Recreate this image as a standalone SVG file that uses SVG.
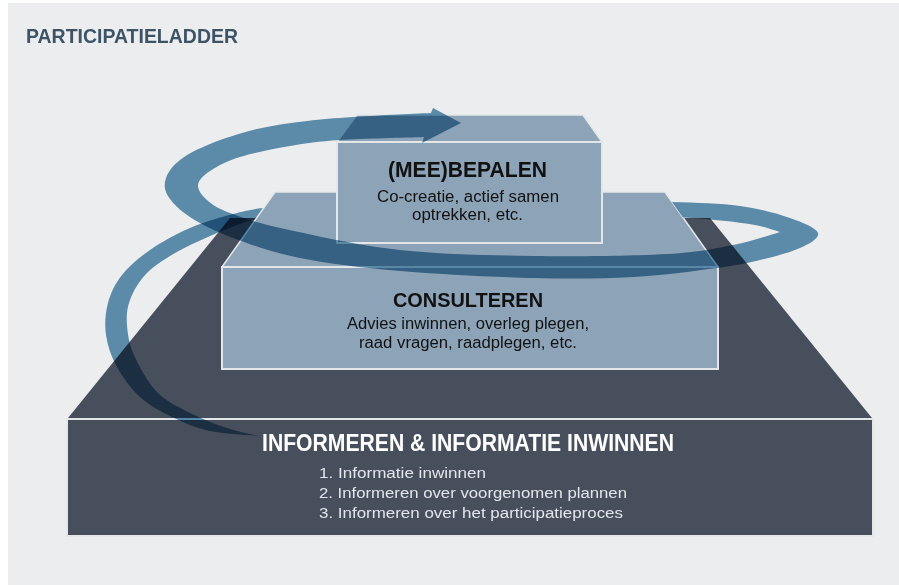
<svg xmlns="http://www.w3.org/2000/svg" width="899" height="585" viewBox="0 0 899 585">
<style>
.bg{fill:#ECEDEF}
.dark{fill:#474F5D}
.light{fill:#8DA4B8}
.edge{stroke:#E4E7EA;stroke-width:2}
.tedge{stroke:#E4E7EA;stroke-width:1.5;stroke-linejoin:round}
.rib{fill:#6296B5;mix-blend-mode:multiply}
.h{font-family:"Liberation Sans",Arial,sans-serif;font-weight:bold}
.b{font-family:"Liberation Sans",Arial,sans-serif}
</style>
<rect x="0" y="0" width="899" height="585" fill="#ffffff"/>
<rect class="bg" x="8" y="3" width="891" height="582"/>
<text class="h" x="26" y="43" font-size="19.5" fill="#3D5366" textLength="212" lengthAdjust="spacingAndGlyphs">PARTICIPATIELADDER</text>

<g id="level-informeren">
  <polygon class="dark" points="230,218 710,218 872,418 68,418"/>
  <rect class="dark edge" x="67" y="419" width="806" height="117"/>
  <text class="h" x="262" y="451" font-size="23" fill="#ffffff" textLength="412" lengthAdjust="spacingAndGlyphs">INFORMEREN &amp; INFORMATIE INWINNEN</text>
  <text class="b" x="319" y="478" font-size="15.5" fill="#E3E6EA" textLength="167" lengthAdjust="spacingAndGlyphs">1. Informatie inwinnen</text>
  <text class="b" x="319" y="498" font-size="15.5" fill="#E3E6EA" textLength="308" lengthAdjust="spacingAndGlyphs">2. Informeren over voorgenomen plannen</text>
  <text class="b" x="319" y="518" font-size="15.5" fill="#E3E6EA" textLength="304" lengthAdjust="spacingAndGlyphs">3. Informeren over het participatieproces</text>
</g>

<g id="arrow-back">
  <path class="rib" d="M 260,436 C 248.3,435 224.7,434.2 210,431 C 195.3,427.8 183.7,422.7 172,417 C 160.3,411.3 149.2,405.3 140,397 C 130.8,388.7 122.7,377.3 117,367 C 111.3,356.7 107.5,345.7 106,335 C 104.5,324.3 105.3,313 108,303 C 110.7,293 115,283.8 122,275 C 129,266.2 138.7,257.8 150,250 C 161.3,242.2 176.2,234 190,228 C 203.8,222 220.8,217.3 233,214 C 245.2,210.7 251.8,209.3 263,208 L 500,202 L 500,218 L 263,218 C 255.2,219.5 251.8,220 243,223 C 234.2,226 221.3,231 210,236 C 198.7,241 185.7,246.7 175,253 C 164.3,259.3 153.5,266.2 146,274 C 138.5,281.8 133.2,291.5 130,300 C 126.8,308.5 126.3,315.8 127,325 C 127.7,334.2 129,343.8 134,355 C 139,366.2 147.7,382.3 157,392 C 166.3,401.7 178.3,407 190,413 C 201.7,419 215.3,424.2 227,428 C 238.7,431.8 251.2,434.5 260,436 Z"/>
</g>

<g id="level-consulteren">
  <polygon class="light tedge" points="275,192 665,192 718,267 222,267"/>
  <rect class="light edge" x="222" y="267" width="496" height="102"/>
  <text class="h" x="393" y="307" font-size="21" fill="#111111" textLength="150" lengthAdjust="spacingAndGlyphs">CONSULTEREN</text>
  <text class="b" x="347" y="329" font-size="16" fill="#111111" textLength="242" lengthAdjust="spacingAndGlyphs">Advies inwinnen, overleg plegen,</text>
  <text class="b" x="359" y="348" font-size="16" fill="#111111" textLength="218" lengthAdjust="spacingAndGlyphs">raad vragen, raadplegen, etc.</text>
</g>

<g id="level-bepalen">
  <polygon class="light tedge" points="357,115 583,115 602,142 337,142"/>
  <rect class="light edge" x="337" y="142" width="265" height="101"/>
  <text class="h" x="388" y="177" font-size="22" fill="#111111" textLength="159" lengthAdjust="spacingAndGlyphs">(MEE)BEPALEN</text>
  <text class="b" x="377" y="202" font-size="16" fill="#111111" textLength="182" lengthAdjust="spacingAndGlyphs">Co-creatie, actief samen</text>
  <text class="b" x="412" y="220" font-size="16" fill="#111111" textLength="111" lengthAdjust="spacingAndGlyphs">optrekken, etc.</text>
</g>

<g id="arrow-front">
  <path class="rib" d="M 672,202 C 696.3,202.8 720.5,203.3 740,206 C 759.5,208.7 777,213.5 790,218 C 803,222.5 816.3,228 818,233 C 819.7,238 809.7,243.5 800,248 C 790.3,252.5 773.8,256.7 760,260 C 746.2,263.3 738.2,265.2 717,268 C 695.8,270.8 663.7,275.3 633,277 C 602.3,278.7 571.8,279 533,278 C 494.2,277 438.8,274.3 400,271 C 361.2,267.7 327.8,263.5 300,258 C 272.2,252.5 251.3,244.8 233,238 C 214.7,231.2 200.8,224 190,217 C 179.2,210 172,202.5 168,196 C 164,189.5 164,184 166,178 C 168,172 172.7,165.7 180,160 C 187.3,154.3 197.2,149.2 210,144 C 222.8,138.8 240.8,132.8 257,129 C 273.2,125.2 291,123 307,121 C 323,119 332.5,118.3 353,117 C 373.5,115.7 412.2,113.8 431,113 L 433,108 L 461,123 L 422,143 L 424,137 C 407.3,137.7 362.3,138.5 340,140 C 317.7,141.5 306.7,143.2 290,146 C 273.3,148.8 253.3,152.8 240,157 C 226.7,161.2 217,166.3 210,171 C 203,175.7 198.5,180.2 198,185 C 197.5,189.8 201.7,195.3 207,200 C 212.3,204.7 217,208.2 230,213 C 243,217.8 256.7,222.8 285,229 C 313.3,235.2 358.7,245.5 400,250 C 441.3,254.5 488.5,255.3 533,256 C 577.5,256.7 633.7,255.8 667,254 C 700.3,252.2 714.2,248.7 733,245 C 751.8,241.3 770,235 780,232 C 771.7,229.7 765.8,227 755,225 C 744.2,223 728.7,221.3 715,220 C 703,218.8 695.5,218.3 683,217.6 Z"/>
</g>
</svg>
